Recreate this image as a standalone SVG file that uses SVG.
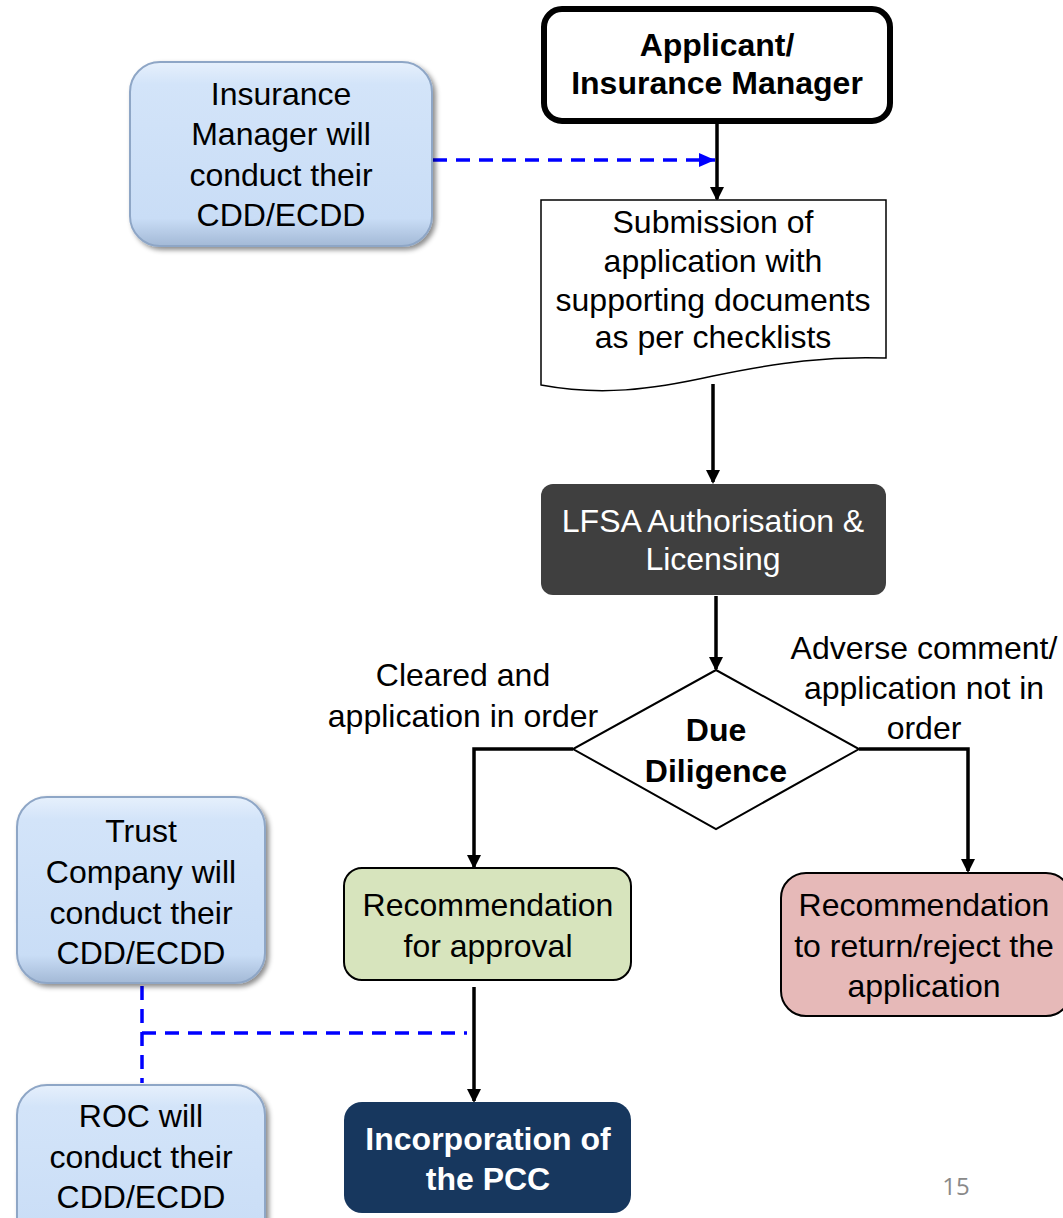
<svg xmlns="http://www.w3.org/2000/svg" width="1063" height="1218" viewBox="0 0 1063 1218">
<style>
text{font-family:"Liberation Sans",Arial,sans-serif;font-size:32px;text-anchor:middle;fill:#000}
.b{font-weight:bold}
.w{fill:#fff}
.blue{fill:url(#gb);stroke:#8ea6c6;stroke-width:2;filter:url(#sh)}
.con{fill:none;stroke:#000;stroke-width:3.5}
.dash{fill:none;stroke:#0000ff;stroke-width:3.5;stroke-dasharray:14 9}
</style>
<defs>
<linearGradient id="gb" x1="0" y1="0" x2="0" y2="1">
<stop offset="0" stop-color="#e6f0fc"/>
<stop offset="0.12" stop-color="#d3e4f9"/>
<stop offset="0.85" stop-color="#c9ddf6"/>
<stop offset="1" stop-color="#a3b9d6"/>
</linearGradient>
<filter id="sh" x="-10%" y="-10%" width="125%" height="125%">
<feDropShadow dx="3" dy="3" stdDeviation="2.5" flood-color="#000" flood-opacity="0.45"/>
</filter>
<marker id="ah" markerWidth="14" markerHeight="14" refX="12" refY="7" orient="auto" markerUnits="userSpaceOnUse">
<path d="M0,0 L14,7 L0,14 Z" fill="#000"/>
</marker>
<marker id="ahb" markerWidth="16" markerHeight="14" refX="16" refY="7" orient="auto" markerUnits="userSpaceOnUse">
<path d="M0,0 L16,7 L0,14 Z" fill="#0000ff"/>
</marker>
</defs>

<g id="connectors">
<path class="dash" d="M433,160 H715" marker-end="url(#ahb)"/>
<path class="con" d="M717,122 V199" marker-end="url(#ah)"/>
<path class="con" d="M713,384 V482" marker-end="url(#ah)"/>
<path class="con" d="M716,596 V669" marker-end="url(#ah)"/>
<path class="con" d="M573,749 H474 V867" marker-end="url(#ah)"/>
<path class="con" d="M859,749 H968 V871" marker-end="url(#ah)"/>
<path class="con" d="M474,987 V1101" marker-end="url(#ah)"/>
<path class="dash" d="M142,986 V1083"/>
<path class="dash" d="M142,1033 H467"/>
</g>

<g id="applicant">
<rect x="544" y="9" width="346" height="112" rx="18" fill="#fff" stroke="#000" stroke-width="6"/>
<text class="b" x="717" y="56">Applicant/</text>
<text class="b" x="717" y="94">Insurance Manager</text>
</g>

<g id="insurance-manager">
<rect class="blue" x="130" y="62" width="302" height="184" rx="30"/>
<text x="281" y="105">Insurance</text>
<text x="281" y="145">Manager will</text>
<text x="281" y="186">conduct their</text>
<text x="281" y="226">CDD/ECDD</text>
</g>

<g id="submission">
<path d="M541,200 H886 V358 C830,356 780,362 713,376 C650,390 600,396 541,385 Z" fill="#fff" stroke="#000" stroke-width="1.5"/>
<text x="713" y="233">Submission of</text>
<text x="713" y="272">application with</text>
<text x="713" y="311">supporting documents</text>
<text x="713" y="348">as per checklists</text>
</g>

<g id="lfsa">
<rect x="541" y="484" width="345" height="111" rx="12" fill="#3f3f3f"/>
<text class="w" x="713" y="532">LFSA Authorisation &amp;</text>
<text class="w" x="713" y="570">Licensing</text>
</g>

<g id="due-diligence">
<path d="M716,670 L859,749 L716,829 L573,749 Z" fill="#fff" stroke="#000" stroke-width="2"/>
<text class="b" x="716" y="741">Due</text>
<text class="b" x="716" y="782">Diligence</text>
</g>

<g id="label-cleared">
<text x="463" y="686">Cleared and</text>
<text x="463" y="727">application in order</text>
</g>

<g id="label-adverse">
<text x="924" y="659">Adverse comment/</text>
<text x="924" y="699">application not in</text>
<text x="924" y="739">order</text>
</g>

<g id="approval">
<rect x="344" y="868" width="287" height="112" rx="18" fill="#d7e4bd" stroke="#000" stroke-width="2"/>
<text x="488" y="916">Recommendation</text>
<text x="488" y="957">for approval</text>
</g>

<g id="reject">
<rect x="781" y="873" width="290" height="143" rx="25" fill="#e6b9b8" stroke="#000" stroke-width="2"/>
<text x="924" y="916">Recommendation</text>
<text x="924" y="957">to return/reject the</text>
<text x="924" y="997">application</text>
</g>

<g id="incorporation">
<rect x="344" y="1102" width="287" height="111" rx="18" fill="#17375e"/>
<text class="b w" x="488" y="1150">Incorporation of</text>
<text class="b w" x="488" y="1190">the PCC</text>
</g>

<g id="trust-company">
<rect class="blue" x="17" y="797" width="248" height="186" rx="30"/>
<text x="141" y="842">Trust</text>
<text x="141" y="883">Company will</text>
<text x="141" y="924">conduct their</text>
<text x="141" y="964">CDD/ECDD</text>
</g>

<g id="roc">
<rect class="blue" x="17" y="1085" width="248" height="180" rx="30"/>
<text x="141" y="1127">ROC will</text>
<text x="141" y="1168">conduct their</text>
<text x="141" y="1208">CDD/ECDD</text>
</g>

<text x="956" y="1195" style="font-family:'Open Sans','Liberation Sans',sans-serif;font-size:24px;fill:#898989">15</text>
</svg>
